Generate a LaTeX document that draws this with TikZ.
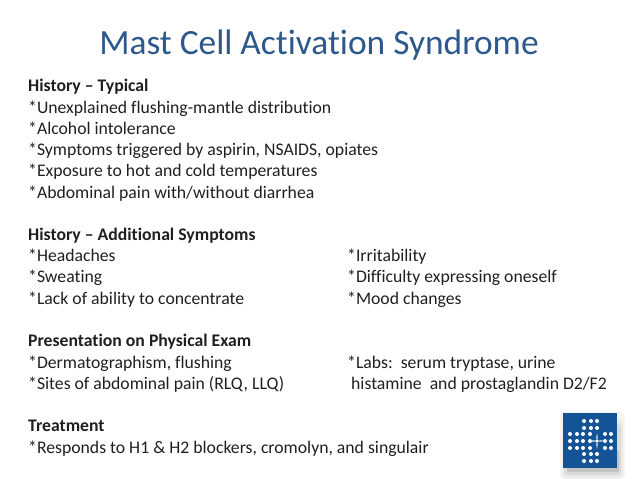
\documentclass[tikz,border=0pt]{standalone}
\usepackage{fontspec}
\setmainfont[Ligatures=NoCommon]{Carlito}
\definecolor{titleblue}{RGB}{44,88,140}
\definecolor{logoblue}{RGB}{20,84,150}
\tikzset{
    bodytext/.style={anchor=base west, inner sep=0pt, font=\fontsize{17.7}{20}\selectfont, text=black!88},
    headtext/.style={bodytext, font=\fontsize{17.7}{20}\selectfont\bfseries},
    titletext/.style={anchor=base, inner sep=0pt, font=\fontsize{35.4}{44}\selectfont, text=titleblue},
    logodot/.style={circle, fill=white, inner sep=0pt, minimum size=4pt}
}
\begin{document}
\begin{tikzpicture}[x=1pt,y=-1pt]
    \useasboundingbox (0,0) rectangle (638,479);
    \node[titletext] (title) at (319,54) {Mast Cell Activation Syndrome};

    \node[headtext] (h1) at (28,91) {History -- Typical};
    \node[bodytext] (a1) at (28,113) {*Unexplained flushing-mantle distribution};
    \node[bodytext] (a2) at (28,134) {*Alcohol intolerance};
    \node[bodytext] (a3) at (28,155) {*Symptoms triggered by aspirin, NSAIDS, opiates};
    \node[bodytext] (a4) at (28,176) {*Exposure to hot and cold temperatures};
    \node[bodytext] (a5) at (28,198) {*Abdominal pain with/without diarrhea};

    \node[headtext] (h2) at (28,240) {History -- Additional Symptoms};
    \node[bodytext] (b1) at (28,261) {*Headaches};
    \node[bodytext] (b2) at (28,282) {*Sweating};
    \node[bodytext] (b3) at (28,304) {*Lack of ability to concentrate};
    \node[bodytext] (c1) at (347,261) {*Irritability};
    \node[bodytext] (c2) at (347,282) {*Difficulty expressing oneself};
    \node[bodytext] (c3) at (347,304) {*Mood changes};

    \node[headtext] (h3) at (28,346) {Presentation on Physical Exam};
    \node[bodytext] (d1) at (28,368) {*Dermatographism, flushing};
    \node[bodytext] (d2) at (28,389) {*Sites of abdominal pain (RLQ, LLQ)};
    \node[bodytext] (e1) at (347,368) {*Labs:\ \ serum tryptase, urine};
    \node[bodytext] (e2) at (351,389) {histamine\ \ and prostaglandin D2/F2};

    \node[headtext] (h4) at (28,431) {Treatment};
    \node[bodytext] (f1) at (28,453) {*Responds to H1 \& H2 blockers, cromolyn, and singulair};

    % logo
    \fill[black!4, rounded corners=5pt] (560,412) rectangle (625,479);
    \fill[black!8, rounded corners=4pt] (562,420) rectangle (623,478);
    \fill[black!14, rounded corners=3pt] (564,424) rectangle (621,475);
    \fill[black!24, rounded corners=2pt] (567,450) rectangle (619,472);
    \fill[logoblue] (563,413) rectangle (617,468);
    \foreach \px in {584,591,597}
        \foreach \py in {421,428,454,461}
            \node[logodot] at (\px,\py) {};
    \foreach \py in {434,441,448} {
        \foreach \px in {570,577,583,590}
            \node[logodot] at (\px,\py) {};
        \foreach \px in {605,611}
            \node[logodot] at (\px,\py) {};
    }
    \fill[white] (597,433) -- (598,440) -- (605,441) -- (598,442) -- (597,449) -- (596,442) -- (589,441) -- (596,440) -- cycle;
    \draw[logoblue, fill=white, line width=0.8pt] (597,441) circle (2.2pt);
\end{tikzpicture}
\end{document}
